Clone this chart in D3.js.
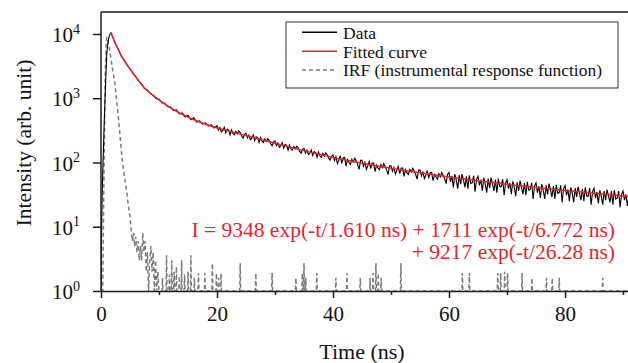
<!DOCTYPE html>
<html>
<head>
<meta charset="utf-8">
<script src="https://cdn.jsdelivr.net/npm/d3@7"></script>
<style>
  body { margin: 0; background: #fff; }
  svg { display: block; font-family: "Liberation Serif", "Times New Roman", serif; }
</style>
</head>
<body>
<svg id="chart" width="628" height="363"></svg>
<script>
// measured decay (counts), rising edge listed point by point
const dataHeadT = [0, 0.1, 0.2, 0.3, 0.4, 0.55, 0.7, 0.85, 1.0, 1.2, 1.4, 1.6, 1.75];
const dataHeadV = [1, 9, 30, 70, 140, 400, 1000, 2400, 5000, 7500, 9100, 10200, 10400];
// 2 ns .. 19.5 ns, every 0.5 ns
const earlyStart = 2, earlyStep = 0.5;
const dataEarly = [
  9100, 7000, 5750, 4520, 3930, 3270, 2880, 2420, 2170, 1840, 1665, 1420, 1345, 1180, 1120, 985,
  965, 850, 838, 735, 730, 640, 658, 570, 590, 512, 545, 462, 495, 425, 445, 396, 414, 368, 389, 345
];
// 20 ns .. 91 ns, every 0.25 ns
const lateStart = 20, lateStep = 0.25;
const dataLate = [
  375, 318, 350, 299, 315, 352, 290, 330, 319, 269, 322, 282, 270, 307, 280, 310,
  292, 258, 240, 275, 284, 241, 266, 227, 239, 268, 220, 251, 243, 205, 245, 215,
  205, 233, 213, 235, 222, 196, 182, 208, 216, 183, 202, 173, 181, 204, 167, 191,
  185, 156, 187, 163, 156, 178, 163, 179, 169, 149, 140, 160, 165, 140, 155, 133,
  140, 157, 129, 148, 143, 121, 146, 127, 121, 139, 126, 141, 132, 117, 109, 125,
  132, 107, 124, 96, 109, 128, 97, 119, 120, 88, 111, 100, 93, 112, 101, 116,
  106, 92, 78, 108, 108, 87, 101, 78, 89, 104, 80, 98, 98, 72, 91, 82,
  77, 93, 83, 96, 87, 76, 65, 89, 89, 73, 84, 66, 75, 87, 67, 82,
  82, 61, 77, 69, 65, 78, 71, 81, 74, 65, 55, 76, 76, 62, 71, 56,
  64, 75, 57, 70, 70, 52, 65, 60, 55, 67, 60, 70, 63, 56, 47, 65,
  70, 50, 62, 41, 66, 53, 39, 64, 46, 66, 53, 41, 61, 39, 63, 47,
  48, 62, 35, 55, 61, 44, 54, 36, 58, 46, 34, 56, 40, 58, 46, 36,
  54, 34, 56, 42, 42, 55, 31, 48, 54, 39, 48, 32, 51, 41, 30, 49,
  36, 52, 41, 32, 48, 31, 50, 37, 38, 48, 27, 43, 48, 34, 43, 28,
  46, 37, 27, 44, 32, 47, 37, 29, 43, 27, 45, 33, 34, 44, 24, 39,
  44, 31, 38, 25, 41, 33, 24, 40, 29, 42, 33, 26, 39, 25, 41, 30,
  30, 40, 22, 35, 40, 28, 35, 23, 37, 30, 22, 36, 26, 38, 30, 24,
  36, 22, 37, 27, 28, 36, 20, 32, 36, 26, 32, 21, 30
];

// fitted curve read at knots
const fitT = [1.7, 2.5, 3.5, 4.5, 5.5, 6.5, 7.5, 9, 10.5, 12, 14, 17, 20, 25, 30, 35, 40, 45, 50, 55, 60, 65, 70, 75, 80, 85, 91];
const fitV = [10470, 7080, 4570, 3310, 2455, 1860, 1445, 1096, 871, 708, 562, 427, 347, 263, 200, 153, 120, 97.7, 81.3, 69.2, 59.6, 51.9, 45.7, 40.7, 36.7, 33.1, 29.5];

// instrumental response function: main pulse and noisy foot
const irfT = [0, 0.3, 0.45, 0.6, 0.75, 0.9, 1.0, 1.2, 1.5, 2.0, 2.4, 2.7, 3.0, 3.3, 3.6, 4.0, 4.4, 4.7, 5.0,
  5.2, 5.4, 5.6, 5.8, 6.0, 6.2, 6.4, 6.6, 6.8, 7.0, 7.2, 7.4, 7.6, 7.8, 8.0, 8.2, 8.4, 8.6, 8.8, 9.0, 9.2, 9.4, 9.6, 9.8, 10.0];
const irfV = [1, 1, 20, 300, 2500, 7500, 9000, 8000, 5600, 2800, 1700, 900, 500, 250, 123, 63, 37, 22, 14,
  9, 6, 8, 5, 7, 4, 6, 3, 5, 3, 8, 4, 6, 2, 4, 1, 3, 5, 2, 4, 1, 3, 1, 2, 1];
// isolated counts in the IRF tail
const irfSpikeT = [10.6, 11.3, 11.8, 12.2, 12.6, 13.0, 13.5, 13.9, 14.4, 15.0, 15.5, 16.1, 16.8, 17.9, 19.2, 19.9, 20.3, 20.7,
  24.0, 26.7, 29.5, 33.6, 34.7, 35.0, 35.3, 37.2, 40.5, 42.4, 44.7, 46.4, 46.9, 47.4, 47.8, 48.3, 51.7,
  62.3, 63.5, 68.4, 68.9, 69.6, 70.1, 72.6, 74.3, 76.8, 77.8, 79.0, 86.5];
const irfSpikeV = [1.6, 3.6, 1.8, 3, 2, 2.4, 1.7, 3, 1.8, 2, 3.6, 1.6, 1.9, 1.9, 2.7, 1.9, 1.6, 1.9,
  2.7, 1.9, 1.9, 1.6, 1.9, 2.7, 1.6, 1.9, 1.6, 1.9, 1.6, 1.6, 1.9, 2.7, 1.9, 1.6, 2.7,
  1.9, 1.9, 1.9, 1.9, 2.0, 1.9, 1.9, 1.6, 1.6, 1.6, 1.6, 1.6];

const xMajor = [0, 20, 40, 60, 80];
const xMinor = [10, 30, 50, 70, 90];
const yTicks = [1, 10, 100, 1000, 10000];
const legendItems = ["Data", "Fitted curve", "IRF (instrumental response function)"];
const equation = ["I = 9348 exp(-t/1.610 ns) + 1711 exp(-t/6.772 ns)", "+ 9217 exp(-t/26.28 ns)"];

const red = "#e2252b";
const axisColor = "#1e1e1e";
const plot = { left: 101, right: 628, top: 12, bottom: 291 };

const svg = d3.select("#chart");

const x = d3.scaleLinear().domain([0, 90.86]).range([plot.left, plot.right]);
const y = d3.scaleLog().domain([1, 21990]).range([plot.bottom, plot.top]);

const dataPoints = dataHeadT.map((t, i) => ({ t, v: dataHeadV[i] }))
  .concat(dataEarly.map((v, i) => ({ t: earlyStart + i * earlyStep, v })))
  .concat(dataLate.map((v, i) => ({ t: lateStart + i * lateStep, v })));
const fitPoints = fitT.map((t, i) => ({ t, v: fitV[i] }));
let irfPoints = irfT.map((t, i) => ({ t, v: irfV[i] }));
irfSpikeT.forEach((t, i) => {
  irfPoints.push({ t: t - 0.08, v: 1 }, { t, v: irfSpikeV[i] }, { t: t + 0.08, v: 1 });
});
irfPoints.push({ t: 91, v: 1 });

const line = d3.line().x((d) => x(d.t)).y((d) => y(d.v));

svg.append("clipPath").attr("id", "clip")
  .append("rect")
  .attr("x", plot.left).attr("y", plot.top)
  .attr("width", plot.right - plot.left).attr("height", plot.bottom - plot.top);

const g = svg.append("g").attr("clip-path", "url(#clip)");

g.append("path")
  .datum(irfPoints)
  .attr("fill", "none")
  .attr("stroke", "#7a7a7a")
  .attr("stroke-width", 1.5)
  .attr("stroke-dasharray", "4,3")
  .attr("d", line);

g.append("path")
  .datum(dataPoints)
  .attr("fill", "none")
  .attr("stroke", "#000")
  .attr("stroke-width", 1.1)
  .attr("d", line);

g.append("path")
  .datum(fitPoints)
  .attr("fill", "none")
  .attr("stroke", red)
  .attr("stroke-width", 1.5)
  .attr("d", line.curve(d3.curveMonotoneX));

// axes
const xAxis = svg.append("g")
  .attr("transform", `translate(0,${plot.bottom})`)
  .call(d3.axisBottom(x).tickValues(xMajor).tickSize(7).tickSizeOuter(0).tickPadding(0));
const xMinorAxis = svg.append("g")
  .attr("transform", `translate(0,${plot.bottom})`)
  .call(d3.axisBottom(x).tickValues(xMinor).tickSize(4).tickSizeOuter(0).tickFormat(""));
xAxis.selectAll(".tick text")
  .attr("y", 30).attr("dy", 0)
  .attr("font-size", 21);
xMinorAxis.select(".domain").remove();

const yAxis = svg.append("g")
  .attr("transform", `translate(${plot.left},0)`)
  .call(d3.axisLeft(y).tickValues(yTicks).tickSize(8).tickSizeOuter(0).tickPadding(13));
yAxis.selectAll(".tick text")
  .attr("font-size", 21)
  .attr("dy", "0.36em")
  .text("")
  .each(function (d) {
    const t = d3.select(this);
    t.append("tspan").text("10");
    t.append("tspan").attr("font-size", 14).attr("dy", -8.4).text(Math.round(Math.log10(d)));
  });

svg.selectAll(".domain, .tick line")
  .attr("stroke", axisColor)
  .attr("stroke-width", 1.5);
svg.selectAll(".tick text").attr("fill", "#111").attr("font-family", "Liberation Serif, serif");

// top frame line
svg.append("line")
  .attr("x1", plot.left).attr("x2", plot.right)
  .attr("y1", plot.top).attr("y2", plot.top)
  .attr("stroke", axisColor).attr("stroke-width", 1.5);
yAxis.select(".domain").attr("d", `M0,${plot.top}V${plot.bottom}`);

// axis titles
svg.append("text")
  .attr("x", 362).attr("y", 359)
  .attr("text-anchor", "middle")
  .attr("font-size", 22)
  .attr("fill", "#111")
  .text("Time (ns)");
svg.append("text")
  .attr("transform", "translate(31,143) rotate(-90)")
  .attr("text-anchor", "middle")
  .attr("font-size", 21.5)
  .attr("fill", "#111")
  .text("Intensity (arb. unit)");

// legend
const legend = svg.append("g");
legend.append("rect")
  .attr("x", 286).attr("y", 22)
  .attr("width", 332).attr("height", 66)
  .attr("fill", "#fff")
  .attr("stroke", "#333").attr("stroke-width", 1);
const legendStyles = [
  { stroke: "#000", dash: null },
  { stroke: red, dash: null },
  { stroke: "#7a7a7a", dash: "4,3" },
];
legendItems.forEach((label, i) => {
  const yy = 32.3 + i * 18.9;
  legend.append("line")
    .attr("x1", 302).attr("x2", 337)
    .attr("y1", yy).attr("y2", yy)
    .attr("stroke", legendStyles[i].stroke)
    .attr("stroke-width", 1.5)
    .attr("stroke-dasharray", legendStyles[i].dash);
  legend.append("text")
    .attr("x", 343).attr("y", yy + 6.3)
    .attr("font-size", 17.5)
    .attr("fill", "#111")
    .text(label);
});

// fit equation
svg.append("g").selectAll("text")
  .data(equation)
  .join("text")
  .attr("x", 615)
  .attr("y", (d, i) => 237 + i * 21.5)
  .attr("text-anchor", "end")
  .attr("font-size", 21.5)
  .attr("fill", red)
  .text((d) => d);
</script>
</body>
</html>
